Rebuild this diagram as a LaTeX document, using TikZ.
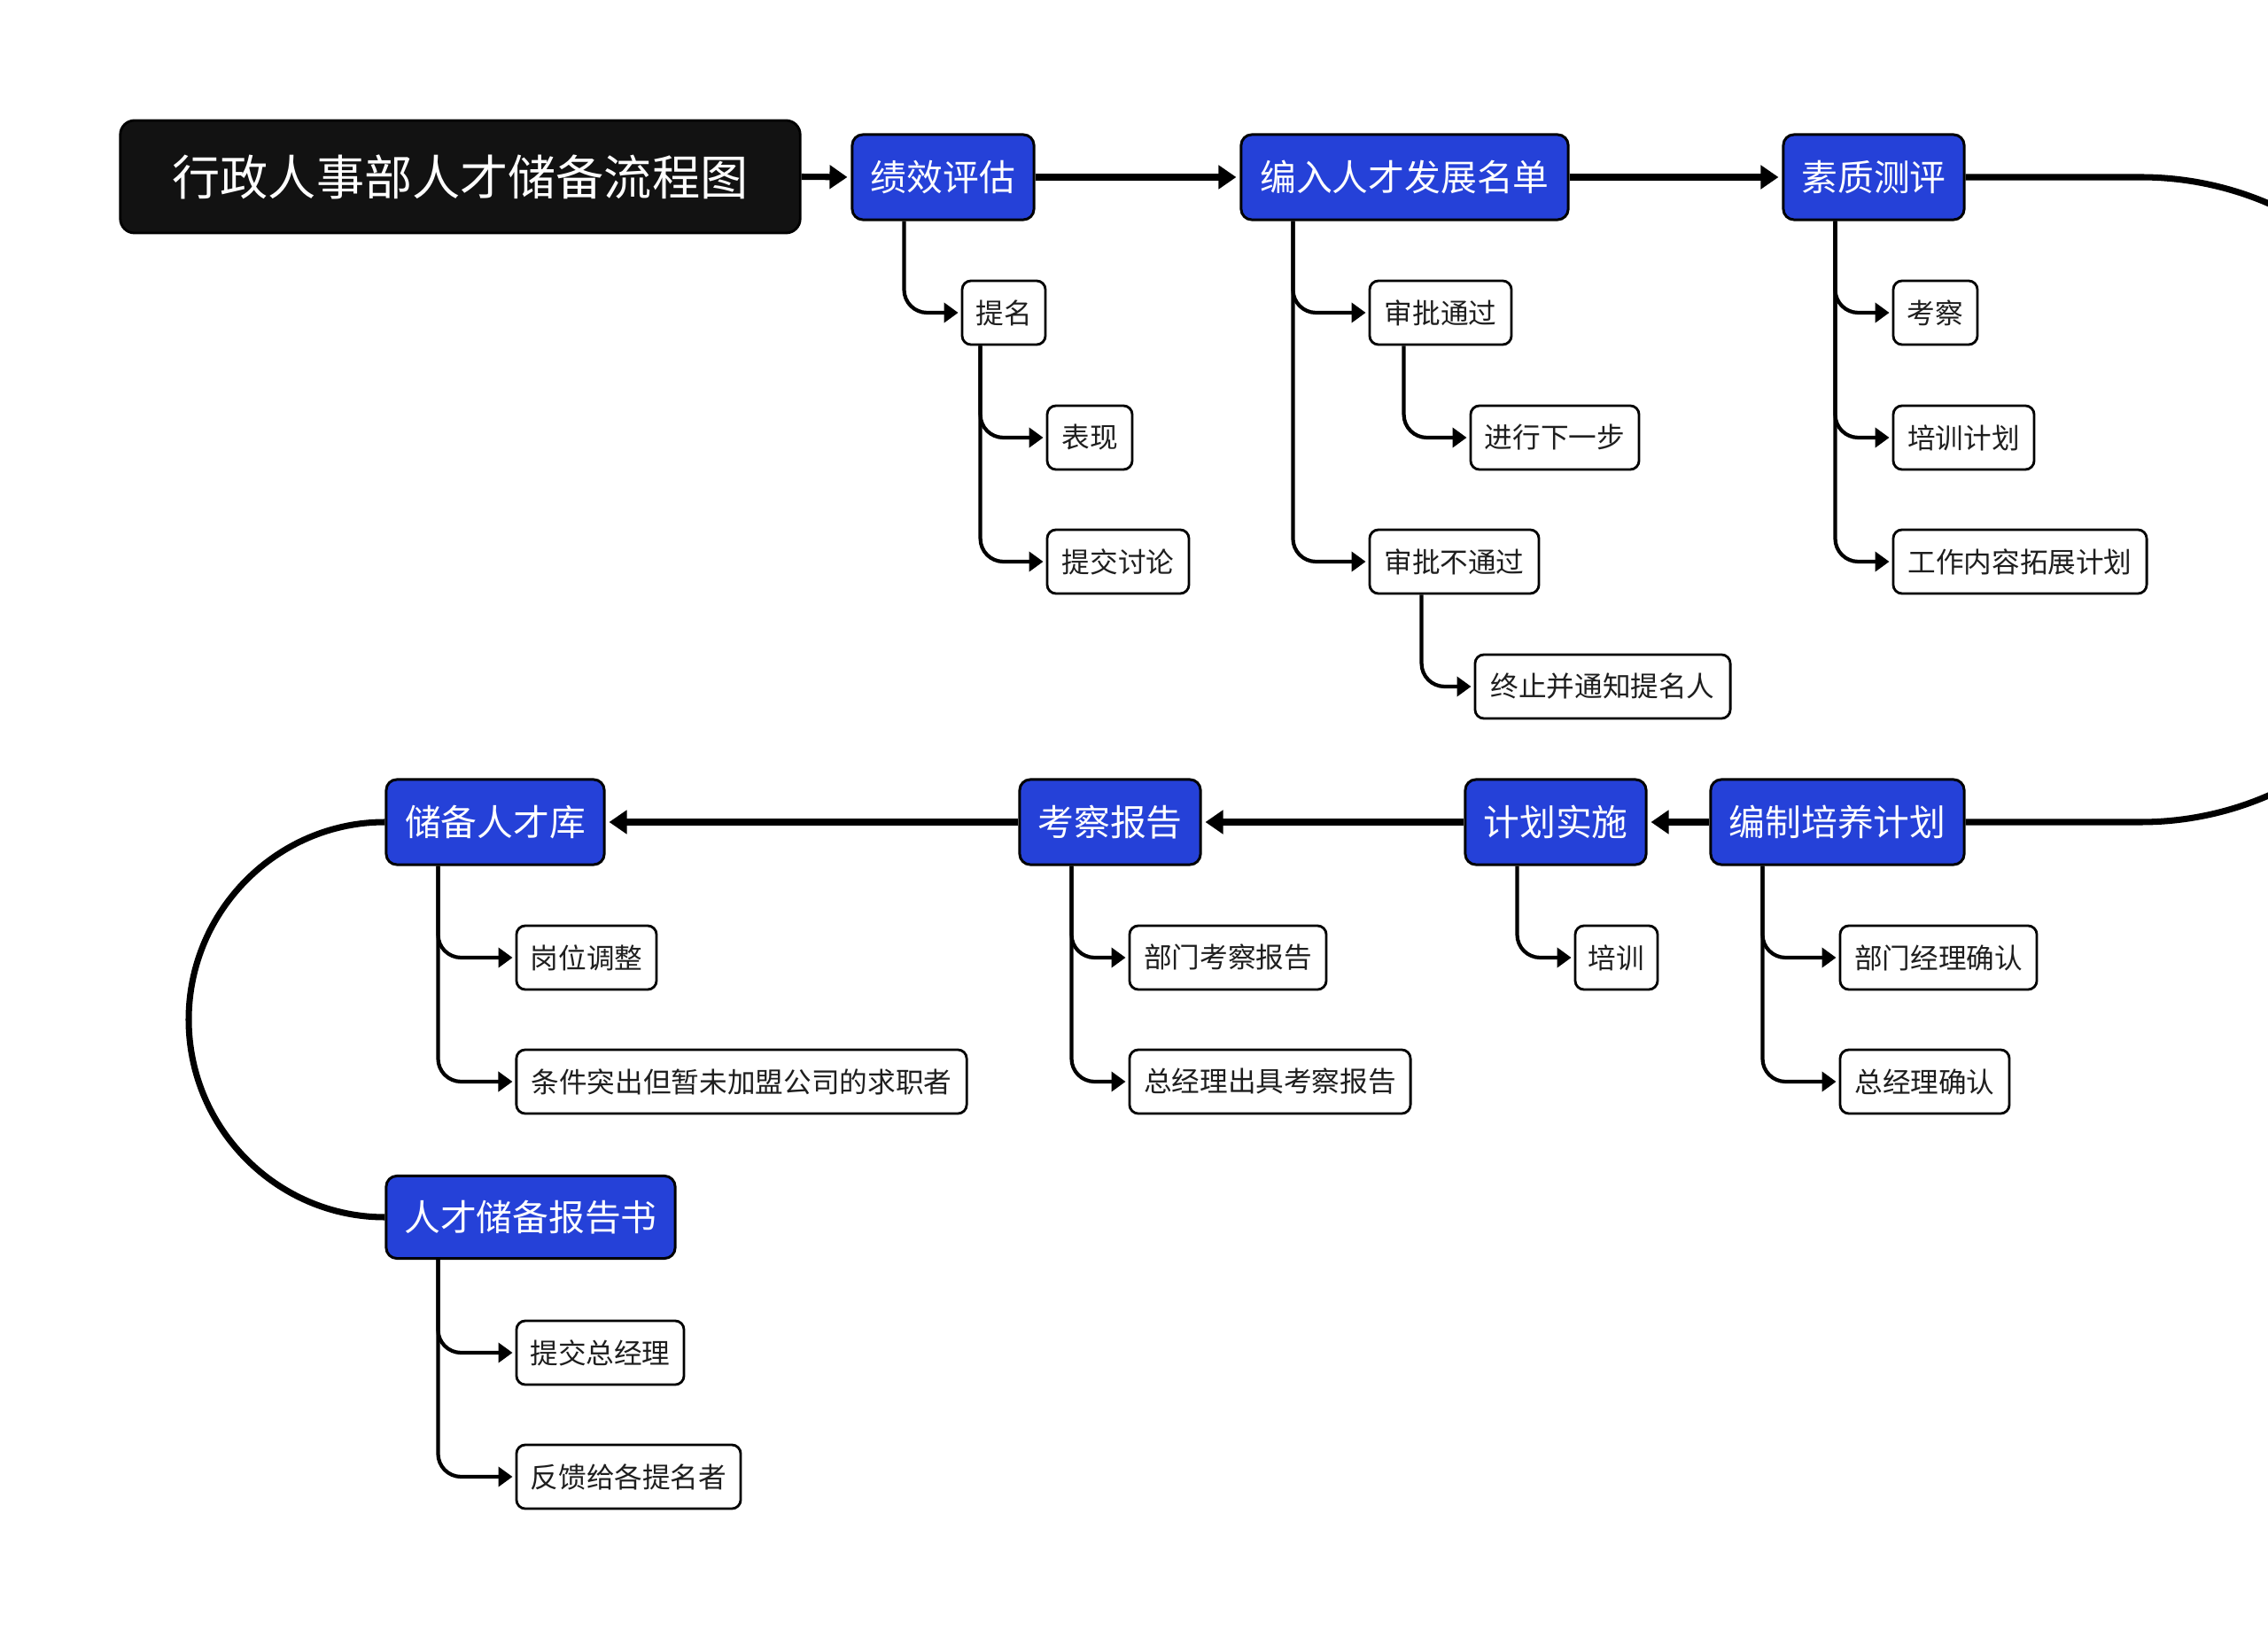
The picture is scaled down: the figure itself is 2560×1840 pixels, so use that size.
\documentclass[tikz,border=0pt]{standalone}
\usepackage{fontspec}
\newfontfamily\cjk{Noto Sans CJK SC}
\usetikzlibrary{arrows.meta}
\definecolor{myblue}{RGB}{37,65,216}
\definecolor{titlebg}{RGB}{18,18,18}
\definecolor{txtgray}{RGB}{30,30,30}
\tikzset{
  titlebox/.style={draw=black, line width=0.8pt, fill=titlebg, rounded corners=0.16cm, text=white,
    font=\cjk\fontsize{15.4}{18}\selectfont, minimum height=1.27cm, minimum width=7.67cm, inner sep=0pt},
  mainbox/.style={draw=black, line width=0.85pt, fill=myblue, rounded corners=0.12cm, text=white,
    font=\cjk\fontsize{11.6}{14}\selectfont, minimum height=0.96cm, inner sep=0pt},
  subbox/.style={draw=black, line width=0.8pt, fill=white, rounded corners=0.1cm, text=txtgray,
    font=\cjk\fontsize{9}{11}\selectfont, minimum height=0.72cm, inner sep=0pt},
  flow/.style={line width=2pt, -{Triangle[length=0.2cm,width=0.26cm]}, shorten >=0.04cm},
  flowline/.style={line width=2pt},
  branch/.style={line width=1.2pt, rounded corners=0.26cm, -{Triangle[length=0.16cm,width=0.22cm]}, shorten >=0.03cm},
}
\begin{document}
\begin{tikzpicture}[x=0.01cm, y=-0.01cm]
\fill[white] (0,0) rectangle (2560,1840);
\clip (0,0) rectangle (2560,1840);

% title
\node[titlebox] (title) at (519.5,199.5) {行政人事部人才储备流程图};

% row 1 main
\node[mainbox, minimum width=2.05cm] (jx) at (1064.5,200) {绩效评估};
\node[mainbox, minimum width=3.69cm] (br) at (1585.5,200) {编入人才发展名单};
\node[mainbox, minimum width=2.04cm] (sz) at (2115,200) {素质测评};

% row 1 children
\node[subbox, minimum width=0.94cm] (tm) at (1133,353) {提名};
\node[subbox, minimum width=0.96cm] (bx) at (1230,494) {表现};
\node[subbox, minimum width=1.60cm] (tj) at (1262,634) {提交讨论};
\node[subbox, minimum width=1.60cm] (sp) at (1626,353) {审批通过};
\node[subbox, minimum width=1.90cm] (jx1) at (1755,494) {进行下一步};
\node[subbox, minimum width=1.91cm] (sn) at (1641.5,634) {审批不通过};
\node[subbox, minimum width=2.88cm] (zz) at (1809,775) {终止并通知提名人};
\node[subbox, minimum width=0.95cm] (kc) at (2184.5,353) {考察};
\node[subbox, minimum width=1.59cm] (px) at (2216.5,494) {培训计划};
\node[subbox, minimum width=2.86cm] (gz) at (2280,634) {工作内容拓展计划};

% row 2 main
\node[mainbox, minimum width=2.46cm] (cb) at (559,928) {储备人才库};
\node[mainbox, minimum width=2.04cm] (kb) at (1253,928) {考察报告};
\node[mainbox, minimum width=2.04cm] (js) at (1756,928) {计划实施};
\node[mainbox, minimum width=2.86cm] (bz) at (2074,928) {编制培养计划};
\node[mainbox, minimum width=3.26cm, minimum height=0.93cm] (rb) at (599,1374) {人才储备报告书};

% row 2 children
\node[subbox, minimum width=1.58cm] (gw) at (662,1081) {岗位调整};
\node[subbox, minimum width=5.08cm] (tjt) at (837,1221) {条件突出但暂未加盟公司的求职者};
\node[subbox, minimum width=2.22cm] (bmk) at (1386,1081) {部门考察报告};
\node[subbox, minimum width=3.17cm] (zjl) at (1433.5,1221) {总经理出具考察报告};
\node[subbox, minimum width=0.93cm] (pxn) at (1824.5,1081) {培训};
\node[subbox, minimum width=2.22cm] (bmj) at (2188,1081) {部门经理确认};
\node[subbox, minimum width=1.91cm] (zjq) at (2172.5,1221) {总经理确认};
\node[subbox, minimum width=1.89cm] (tzj) at (677.5,1527) {提交总经理};
\node[subbox, minimum width=2.53cm] (fk) at (709.5,1667) {反馈给各提名者};

% main flow
\draw[flow] (title.east) -- (jx.west);
\draw[flow] (jx.east) -- (br.west);
\draw[flow] (br.east) -- (sz.west);
\coordinate (rt) at (2416,200);
\coordinate (rb2) at (2416,928);
\draw[flowline] (sz.east) -- (rt) .. controls (2617,200) and (2780,362) .. (2780,563)
  .. controls (2780,764) and (2617,928) .. (rb2) -- (bz.east);
\draw[flow] (bz.west) -- (js.east);
\draw[flow] (js.west) -- (kb.east);
\draw[flow] (kb.west) -- (cb.east);
\draw[flowline] (cb.west) .. controls (313,928) and (213,1028) .. (213,1151)
  .. controls (213,1274) and (313,1374) .. (rb.west);

% branches row 1
\draw[branch] ([xshift=0.6cm]jx.south west) |- (tm.west);
\draw[branch] ([xshift=0.22cm]tm.south west) |- (bx.west);
\draw[branch] ([xshift=0.22cm]tm.south west) |- (tj.west);
\draw[branch] ([xshift=0.6cm]br.south west) |- (sp.west);
\draw[branch] ([xshift=0.6cm]br.south west) |- (sn.west);
\draw[branch] ([xshift=0.40cm]sp.south west) |- (jx1.west);
\draw[branch] ([xshift=0.60cm]sn.south west) |- (zz.west);
\draw[branch] ([xshift=0.6cm]sz.south west) |- (kc.west);
\draw[branch] ([xshift=0.6cm]sz.south west) |- (px.west);
\draw[branch] ([xshift=0.6cm]sz.south west) |- (gz.west);

% branches row 2
\draw[branch] ([xshift=0.6cm]cb.south west) |- (gw.west);
\draw[branch] ([xshift=0.6cm]cb.south west) |- (tjt.west);
\draw[branch] ([xshift=0.6cm]kb.south west) |- (bmk.west);
\draw[branch] ([xshift=0.6cm]kb.south west) |- (zjl.west);
\draw[branch] ([xshift=0.6cm]js.south west) |- (pxn.west);
\draw[branch] ([xshift=0.6cm]bz.south west) |- (bmj.west);
\draw[branch] ([xshift=0.6cm]bz.south west) |- (zjq.west);
\draw[branch] ([xshift=0.6cm]rb.south west) |- (tzj.west);
\draw[branch] ([xshift=0.6cm]rb.south west) |- (fk.west);
\end{tikzpicture}
\end{document}
